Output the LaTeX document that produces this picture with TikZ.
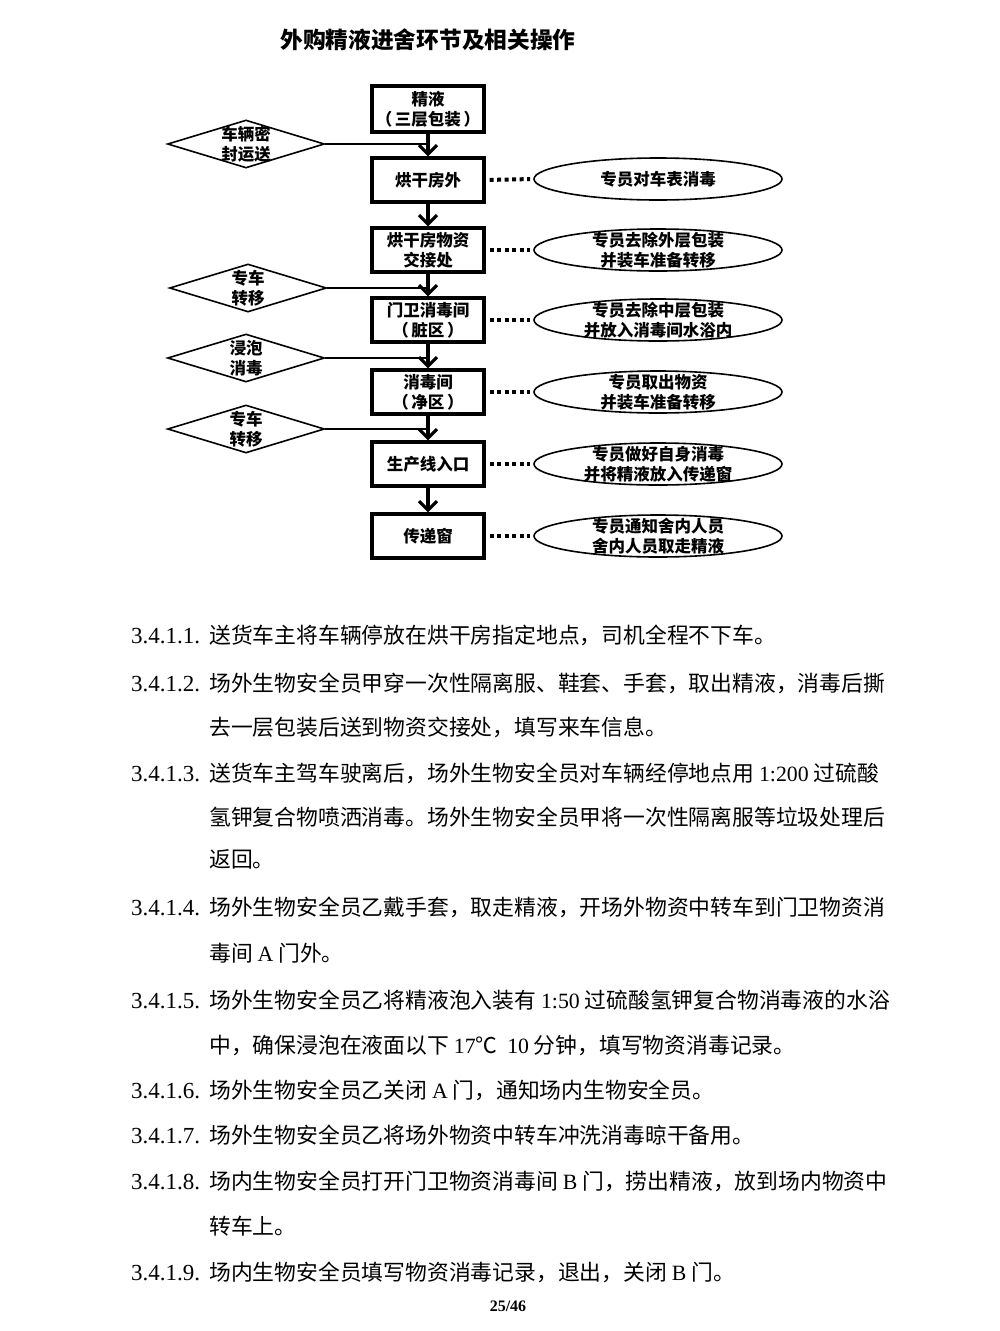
\documentclass[tikz,border=0pt]{standalone}
\usepackage{fontspec}
\setmainfont{Liberation Serif}
\newfontfamily\cjk{Noto Sans CJK SC}
\newfontfamily\lat{Liberation Serif}
\newcommand\Lt[1]{{\lat #1}}
\usetikzlibrary{shapes.geometric,arrows.meta}
\begin{document}
\begin{tikzpicture}[x=1pt,y=-1pt,
  box/.style={draw, line width=3.2pt, minimum width=112pt, minimum height=44pt, inner sep=0pt, align=center, font=\cjk\bfseries\fontsize{16.5}{20}\selectfont},
  dia/.style={draw, line width=1.6pt, shape=diamond, minimum width=157pt, minimum height=48pt, inner sep=0pt},
  ell/.style={draw, line width=1.6pt, shape=ellipse, minimum width=248pt, minimum height=42pt, inner sep=0pt},
  lbl/.style={align=center, inner sep=0pt, font=\cjk\bfseries\fontsize{16.5}{19.5}\selectfont},
  flow/.style={line width=3.2pt, -{Straight Barb[length=9pt,width=18pt]}},
  dots/.style={line width=4pt, dash pattern=on 4pt off 3.5pt, shorten <=4pt, shorten >=3pt},
  feed/.style={line width=1.8pt},
  num/.style={anchor=base west, inner sep=0pt, font=\lat\fontsize{23}{26}\selectfont},
  body/.style={anchor=base west, inner sep=0pt, font=\cjk\fontsize{21.8}{26}\selectfont}
]
\useasboundingbox[fill=white] (0,0) rectangle (999,1331);

% title
\node[font=\cjk\bfseries\fontsize{22.7}{26}\selectfont, inner sep=0pt] (title) at (428,40) {外购精液进舍环节及相关操作};

% boxes
\node[box, minimum height=46pt] (b1) at (428,109) {精液\\（\,三层包装\,）};
\node[box] (b2) at (428,180) {烘干房外};
\node[box] (b3) at (428,250) {烘干房物资\\交接处};
\node[box] (b4) at (428,320) {门卫消毒间\\（\,脏区\,）};
\node[box] (b5) at (428,392) {消毒间\\（\,净区\,）};
\node[box] (b6) at (428,464) {生产线入口};
\node[box] (b7) at (428,536) {传递窗};

% ellipses
\node[ell] (e2) at (658,179) {};
\node[lbl] (e2t) at (e2.center) {专员对车表消毒};
\node[ell] (e3) at (658,250) {};
\node[lbl] (e3t) at (e3.center) {专员去除外层包装\\并装车准备转移};
\node[ell] (e4) at (658,320) {};
\node[lbl] (e4t) at (e4.center) {专员去除中层包装\\并放入消毒间水浴内};
\node[ell] (e5) at (658,392) {};
\node[lbl] (e5t) at (e5.center) {专员取出物资\\并装车准备转移};
\node[ell] (e6) at (658,464) {};
\node[lbl] (e6t) at (e6.center) {专员做好自身消毒\\并将精液放入传递窗};
\node[ell] (e7) at (658,536) {};
\node[lbl] (e7t) at (e7.center) {专员通知舍内人员\\舍内人员取走精液};

% diamonds
\node[dia] (d1) at (246,144) {};
\node[lbl] (d1t) at (d1.center) {车辆密\\封运送};
\node[dia] (d2) at (248,288) {};
\node[lbl] (d2t) at (d2.center) {专车\\转移};
\node[dia] (d3) at (246,358) {};
\node[lbl] (d3t) at (d3.center) {浸泡\\消毒};
\node[dia] (d4) at (246,429) {};
\node[lbl] (d4t) at (d4.center) {专车\\转移};

% flow arrows
\draw[flow] (b1) -- (b2);
\draw[flow] (b2) -- (b3);
\draw[flow] (b3) -- (b4);
\draw[flow] (b4) -- (b5);
\draw[flow] (b5) -- (b6);
\draw[flow] (b6) -- (b7);

% feeds from diamonds
\draw[feed] (d1.east) -- (d1.east -| b1.south);
\draw[feed] (d2.east) -- (d2.east -| b3.south);
\draw[feed] (d3.east) -- (d3.east -| b4.south);
\draw[feed] (d4.east) -- (d4.east -| b5.south);

% dotted links
\draw[dots] (b2.east) -- (e2.west);
\draw[dots] (b3.east) -- (e3.west);
\draw[dots] (b4.east) -- (e4.west);
\draw[dots] (b5.east) -- (e5.west);
\draw[dots] (b6.east) -- (e6.west);
\draw[dots] (b7.east) -- (e7.west);

% body text
\node[num] (n1) at (131,643) {3.4.1.1.};
\node[body] (t1) at (209,643) {送货车主将车辆停放在烘干房指定地点，司机全程不下车。};
\node[num] (n2) at (131,691) {3.4.1.2.};
\node[body] (t2a) at (209,691) {场外生物安全员甲穿一次性隔离服、鞋套、手套，取出精液，消毒后撕};
\node[body] (t2b) at (209,735) {去一层包装后送到物资交接处，填写来车信息。};
\node[num] (n3) at (131,781) {3.4.1.3.};
\node[body] (t3a) at (209,781) {送货车主驾车驶离后，场外生物安全员对车辆经停地点用 \Lt{1:200} 过硫酸};
\node[body] (t3b) at (209,825) {氢钾复合物喷洒消毒。场外生物安全员甲将一次性隔离服等垃圾处理后};
\node[body] (t3c) at (209,867) {返回。};
\node[num] (n4) at (131,915) {3.4.1.4.};
\node[body] (t4a) at (209,915) {场外生物安全员乙戴手套，取走精液，开场外物资中转车到门卫物资消};
\node[body] (t4b) at (209,961) {毒间 \Lt{A} 门外。};
\node[num] (n5) at (131,1008) {3.4.1.5.};
\node[body] (t5a) at (209,1008) {场外生物安全员乙将精液泡入装有 \Lt{1:50} 过硫酸氢钾复合物消毒液的水浴};
\node[body] (t5b) at (209,1053) {中，确保浸泡在液面以下 \Lt{17}℃\ \ \Lt{10} 分钟，填写物资消毒记录。};
\node[num] (n6) at (131,1098) {3.4.1.6.};
\node[body] (t6) at (209,1098) {场外生物安全员乙关闭 \Lt{A} 门，通知场内生物安全员。};
\node[num] (n7) at (131,1143) {3.4.1.7.};
\node[body] (t7) at (209,1143) {场外生物安全员乙将场外物资中转车冲洗消毒晾干备用。};
\node[num] (n8) at (131,1189) {3.4.1.8.};
\node[body] (t8a) at (209,1189) {场内生物安全员打开门卫物资消毒间 \Lt{B} 门，捞出精液，放到场内物资中};
\node[body] (t8b) at (209,1234) {转车上。};
\node[num] (n9) at (131,1280) {3.4.1.9.};
\node[body] (t9) at (209,1280) {场内生物安全员填写物资消毒记录，退出，关闭 \Lt{B} 门。};

% page number
\node[font=\lat\bfseries\fontsize{16}{18}\selectfont, inner sep=0pt] (pg) at (508,1306) {25/46};
\end{tikzpicture}
\end{document}
